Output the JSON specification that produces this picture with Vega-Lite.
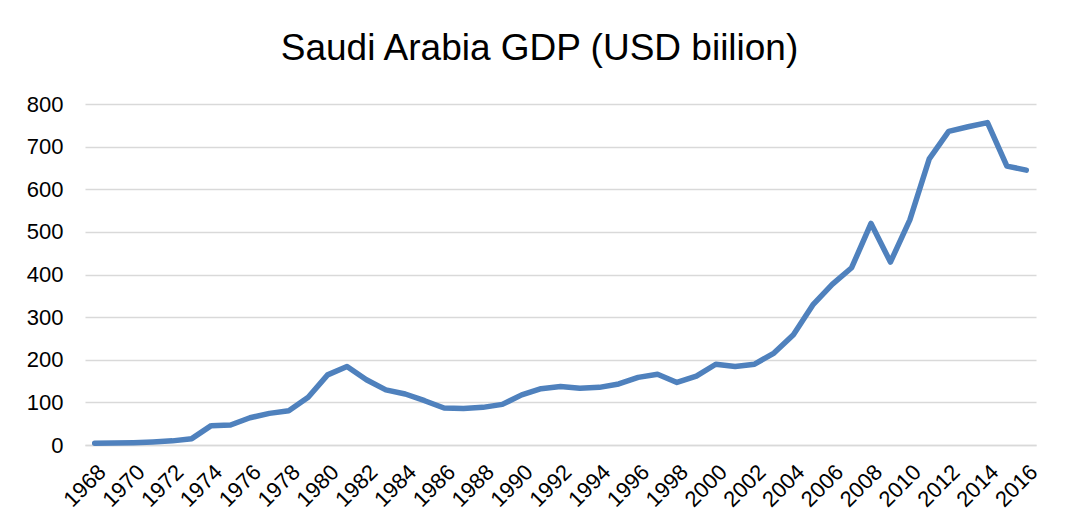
{
  "$schema": "https://vega.github.io/schema/vega-lite/v6.json",
  "width": 951,
  "height": 341,
  "autosize": {"type": "pad"},
  "padding": {"left": 26, "top": 30, "right": 0, "bottom": 0},
  "background": "white",
  "title": {
    "text": "Saudi Arabia GDP (USD biilion)",
    "font": "Liberation Sans",
    "fontSize": 37,
    "fontWeight": "normal",
    "color": "#000000",
    "anchor": "middle",
    "baseline": "top",
    "offset": 25,
    "dx": -21
  },
  "config": {"view": {"stroke": null}},
  "data": {
    "values": [
      {"year": 1968, "gdp": 4.2},
      {"year": 1969, "gdp": 4.6},
      {"year": 1970, "gdp": 5.4},
      {"year": 1971, "gdp": 7.2},
      {"year": 1972, "gdp": 9.7},
      {"year": 1973, "gdp": 14.9},
      {"year": 1974, "gdp": 45.4},
      {"year": 1975, "gdp": 46.8},
      {"year": 1976, "gdp": 64.0},
      {"year": 1977, "gdp": 74.2},
      {"year": 1978, "gdp": 80.3},
      {"year": 1979, "gdp": 111.9},
      {"year": 1980, "gdp": 164.5},
      {"year": 1981, "gdp": 184.3},
      {"year": 1982, "gdp": 153.2},
      {"year": 1983, "gdp": 129.2},
      {"year": 1984, "gdp": 119.6},
      {"year": 1985, "gdp": 103.9},
      {"year": 1986, "gdp": 86.9},
      {"year": 1987, "gdp": 85.7},
      {"year": 1988, "gdp": 88.3},
      {"year": 1989, "gdp": 95.3},
      {"year": 1990, "gdp": 117.6},
      {"year": 1991, "gdp": 132.2},
      {"year": 1992, "gdp": 137.1},
      {"year": 1993, "gdp": 132.9},
      {"year": 1994, "gdp": 135.2},
      {"year": 1995, "gdp": 143.3},
      {"year": 1996, "gdp": 158.7},
      {"year": 1997, "gdp": 165.9},
      {"year": 1998, "gdp": 146.8},
      {"year": 1999, "gdp": 161.7},
      {"year": 2000, "gdp": 189.5},
      {"year": 2001, "gdp": 184.1},
      {"year": 2002, "gdp": 189.6},
      {"year": 2003, "gdp": 215.8},
      {"year": 2004, "gdp": 258.7},
      {"year": 2005, "gdp": 328.5},
      {"year": 2006, "gdp": 376.9},
      {"year": 2007, "gdp": 415.9},
      {"year": 2008, "gdp": 519.8},
      {"year": 2009, "gdp": 429.1},
      {"year": 2010, "gdp": 528.2},
      {"year": 2011, "gdp": 671.2},
      {"year": 2012, "gdp": 735.9},
      {"year": 2013, "gdp": 746.6},
      {"year": 2014, "gdp": 756.4},
      {"year": 2015, "gdp": 654.3},
      {"year": 2016, "gdp": 644.9}
    ]
  },
  "mark": {
    "type": "line",
    "color": "#4F81BD",
    "strokeWidth": 5.5,
    "strokeCap": "round",
    "strokeJoin": "round"
  },
  "encoding": {
    "x": {
      "field": "year",
      "type": "ordinal",
      "sort": "ascending",
      "scale": {"type": "point", "padding": 0.5},
      "axis": {
        "title": null,
        "values": [1968, 1970, 1972, 1974, 1976, 1978, 1980, 1982, 1984, 1986, 1988, 1990, 1992, 1994, 1996, 1998, 2000, 2002, 2004, 2006, 2008, 2010, 2012, 2014, 2016],
        "labelAngle": -45,
        "labelFont": "Liberation Sans",
        "labelFontSize": 22,
        "labelColor": "#000000",
        "labelOverlap": false,
        "labelPadding": 16,
        "ticks": false,
        "domainColor": "#d9d9d9",
        "domainWidth": 1.5,
        "grid": false
      }
    },
    "y": {
      "field": "gdp",
      "type": "quantitative",
      "scale": {"domain": [0, 800], "nice": false},
      "axis": {
        "title": null,
        "values": [0, 100, 200, 300, 400, 500, 600, 700, 800],
        "labelFont": "Liberation Sans",
        "labelFontSize": 22,
        "labelColor": "#000000",
        "labelPadding": 22,
        "ticks": false,
        "domain": false,
        "grid": true,
        "gridColor": "#d9d9d9",
        "gridWidth": 1.5
      }
    }
  }
}
